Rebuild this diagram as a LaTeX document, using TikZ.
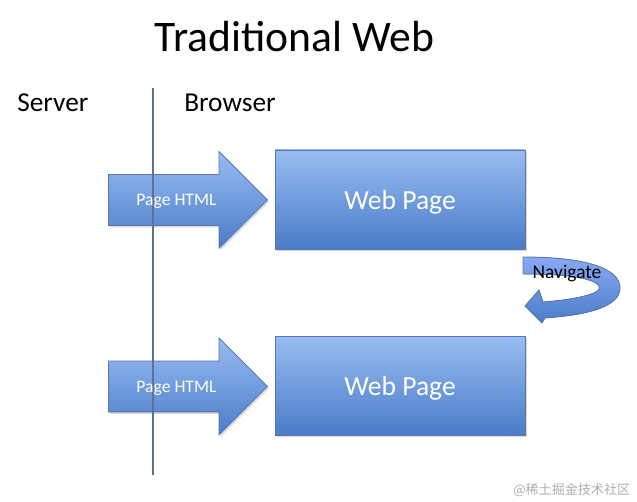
\documentclass[tikz,border=0pt]{standalone}
\usepackage{fontspec}
\setmainfont{Carlito}
\newfontfamily\cjkfont{Noto Sans CJK SC}
\usetikzlibrary{shapes.arrows,shadows}
\newdimen\pxu \pxu=0.75pt
\definecolor{bluetop}{RGB}{152,188,242}
\definecolor{bluebot}{RGB}{74,124,200}
\definecolor{blueedge}{RGB}{90,118,170}
\definecolor{axisline}{RGB}{95,112,150}
\tikzset{
  blockfill/.style={top color=bluetop, bottom color=bluebot, draw=blueedge, line width=0.6pt},
  pagebox/.style={blockfill, rectangle, minimum width=250\pxu, minimum height=99\pxu,
     inner sep=0pt, text=white, font=\fontsize{20.7}{24}\selectfont, text depth=0pt,
     drop shadow={shadow xshift=1.5\pxu, shadow yshift=-2\pxu, opacity=0.25, fill=black!60}},
  htmlarrow/.style={blockfill, single arrow, single arrow head extend=23\pxu,
     single arrow tip angle=90, minimum height=159\pxu, minimum width=96\pxu,
     inner xsep=0pt, inner ysep=25\pxu,
     drop shadow={shadow xshift=1.5\pxu, shadow yshift=-2\pxu, opacity=0.25, fill=black!60}},
  htmllabel/.style={text=white, font=\fontsize{13.2}{15}\selectfont, inner sep=0pt, anchor=base},
  headtext/.style={font=\fontsize{20.5}{24}\selectfont, anchor=base west, inner sep=0pt},
}
\begin{document}
\begin{tikzpicture}[x=0.75pt,y=-0.75pt]
\useasboundingbox (0,0) rectangle (637,502);
\node[font=\fontsize{32.7}{38}\selectfont, anchor=base, inner sep=0pt] (title) at (294.5,52) {Traditional Web};
\node[headtext] (server) at (17,112) {Server};
\node[headtext] (browser) at (184,112) {Browser};

\node[pagebox] (page1) at (400,199.5) {Web Page};
\node[pagebox] (page2) at (400,386) {Web Page};

\node[htmlarrow, anchor=tip] (arr1) at (268,200) {};
\node[htmlarrow, anchor=tip] (arr2) at (268,386.5) {};

\coordinate (ltop) at (153,88);
\coordinate (lbot) at (153,475);
\draw[axisline, line width=1.6\pxu] (ltop) -- (lbot);

\node[htmllabel] (lab1) at (176.5,206) {Page HTML};
\node[htmllabel] (lab2) at (176.5,392.5) {Page HTML};

% Navigate curved arrow
\fill[top color=bluetop!90!blue, bottom color=bluebot, draw=blueedge, line width=0.6pt]
  (523,257) .. controls (585,257) and (620,268) .. (620,288)
  .. controls (620,306) and (590,315) .. (545,318)
  -- (542,323) -- (525,306) -- (539,290) -- (543,302)
  .. controls (580,299) and (603,293) .. (599,286)
  .. controls (593,277) and (560,274) .. (523,274) -- cycle;
\node[font=\fontsize{14.6}{17}\selectfont, anchor=base, inner sep=0pt] (nav) at (567,279) {Navigate};

\node[font=\cjkfont\fontsize{9.8}{12}\selectfont, text=black!32, anchor=base west, inner sep=0pt] (wm) at (513,495) {@稀土掘金技术社区};
\end{tikzpicture}
\end{document}
